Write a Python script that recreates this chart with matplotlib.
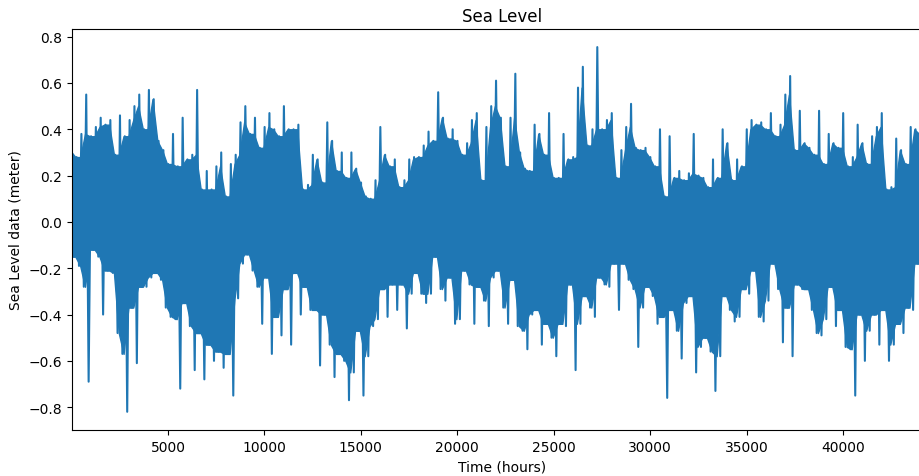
import numpy as np
import matplotlib
matplotlib.use("Agg")
import matplotlib.pyplot as plt

block_hours = 250
start_hour = 10

hi = [0.30, 0.28, 0.38, 0.55, 0.37, 0.41, 0.45, 0.42, 0.44, 0.29, 0.46, 0.37,
      0.44, 0.50, 0.55, 0.40, 0.57, 0.53, 0.35, 0.31, 0.25, 0.38, 0.24,
      0.45, 0.27, 0.29, 0.57, 0.14, 0.22, 0.14, 0.24, 0.30, 0.11, 0.25, 0.29,
      0.43, 0.50, 0.38, 0.45, 0.32, 0.41, 0.47, 0.40, 0.37, 0.50,
      0.40, 0.40, 0.42, 0.14, 0.16, 0.29, 0.27, 0.17, 0.43, 0.35, 0.22, 0.30,
      0.19, 0.30, 0.23, 0.17, 0.11, 0.10, 0.18, 0.41, 0.29, 0.24,
      0.27, 0.15, 0.18, 0.27, 0.28, 0.28, 0.33, 0.39, 0.35, 0.56, 0.45, 0.36,
      0.40, 0.35, 0.29, 0.34, 0.44, 0.47, 0.18, 0.41, 0.50, 0.61,
      0.45, 0.24, 0.45, 0.64, 0.30, 0.23, 0.22, 0.42, 0.38, 0.29, 0.47, 0.19,
      0.19, 0.38, 0.27, 0.28, 0.58, 0.67, 0.33, 0.40, 0.755, 0.40,
      0.44, 0.47, 0.19, 0.31, 0.41, 0.51, 0.32, 0.31, 0.32, 0.28, 0.24, 0.40,
      0.11, 0.37, 0.19, 0.22, 0.18, 0.21, 0.38, 0.20, 0.19, 0.15, 0.27,
      0.19, 0.40, 0.34, 0.18, 0.27, 0.24, 0.40, 0.44, 0.42, 0.43, 0.40, 0.47,
      0.37, 0.42, 0.55, 0.63, 0.31, 0.48, 0.34, 0.32, 0.29, 0.48,
      0.25, 0.38, 0.34, 0.32, 0.47, 0.24, 0.28, 0.42, 0.34, 0.25, 0.37, 0.41,
      0.47, 0.14, 0.15, 0.36, 0.31, 0.25, 0.41, 0.40, 0.38]

lo = [-0.15, -0.19, -0.28, -0.69, -0.12, -0.15, -0.40, -0.21, -0.22, -0.48,
      -0.57, -0.82, -0.37, -0.61, -0.28, -0.28, -0.24, -0.22, -0.25, -0.37,
      -0.41, -0.42, -0.72,
      -0.35, -0.45, -0.64, -0.48, -0.68, -0.53, -0.60, -0.56, -0.63, -0.57,
      -0.75, -0.33, -0.18, -0.14, -0.21, -0.28, -0.44, -0.24, -0.57, -0.41,
      -0.49, -0.29,
      -0.53, -0.22, -0.40, -0.28, -0.38, -0.38, -0.62, -0.40, -0.53, -0.67,
      -0.57, -0.60, -0.77, -0.65, -0.47, -0.75, -0.58, -0.45, -0.42, -0.29,
      -0.41, -0.27,
      -0.38, -0.27, -0.46, -0.31, -0.22, -0.31, -0.35, -0.31, -0.15, -0.29,
      -0.34, -0.24, -0.44, -0.42, -0.21, -0.27, -0.44, -0.28, -0.34, -0.45,
      -0.24, -0.21,
      -0.37, -0.44, -0.25, -0.45, -0.47, -0.55, -0.40, -0.38, -0.53, -0.44,
      -0.50, -0.58, -0.44, -0.45, -0.27, -0.64, -0.44, -0.32, -0.37, -0.41,
      -0.24, -0.27,
      -0.28, -0.18, -0.38, -0.18, -0.25, -0.29, -0.54, -0.37, -0.28, -0.32,
      -0.44, -0.41, -0.76, -0.38, -0.47, -0.59, -0.35, -0.32, -0.65, -0.54,
      -0.50, -0.56, -0.73,
      -0.58, -0.32, -0.38, -0.43, -0.41, -0.29, -0.31, -0.21, -0.41, -0.43,
      -0.34, -0.18, -0.29, -0.52, -0.37, -0.58, -0.27, -0.29, -0.29, -0.38,
      -0.48, -0.49,
      -0.42, -0.28, -0.45, -0.38, -0.54, -0.55, -0.75, -0.40, -0.60, -0.47,
      -0.40, -0.53, -0.38, -0.60, -0.53, -0.44, -0.48, -0.37, -0.38, -0.18,
      -0.32]

# interleave the high and low swing of each block into one hourly trace
t0 = start_hour + np.arange(len(hi)) * block_hours
hours = np.column_stack([t0, t0 + block_hours / 2]).ravel()
level = np.column_stack([hi, lo]).ravel()

# the tidal swings overlap into a solid band: between two blocks the band
# reaches the smaller of the two swings, the larger one sticks out as a spike
hi_arr = np.array(hi)
lo_arr = np.array(lo)
band_t = np.concatenate([[t0[0]], (t0[:-1] + t0[1:]) / 2 + block_hours / 4,
                         [t0[-1] + block_hours / 2]])
band_hi = np.concatenate([[hi_arr[0]], np.minimum(hi_arr[:-1], hi_arr[1:]),
                          [hi_arr[-1]]])
band_lo = np.concatenate([[lo_arr[0]], np.maximum(lo_arr[:-1], lo_arr[1:]),
                          [lo_arr[-1]]])

fig = plt.figure(figsize=(9.2, 4.77), dpi=100)
ax = fig.add_axes([0.078, 0.0964, 0.935, 0.841])
ax.fill_between(band_t, band_lo, band_hi, color="#1f77b4", linewidth=1.0)
ax.plot(hours, level, color="#1f77b4", linewidth=1.5)
ax.set_xlim(start_hour, start_hour + 0.935 * 920 / (675 / 35000))
ax.set_title("Sea Level")
ax.set_xlabel("Time (hours)")
ax.set_ylabel("Sea Level data (meter)")
fig.savefig("out.png", dpi=100)
